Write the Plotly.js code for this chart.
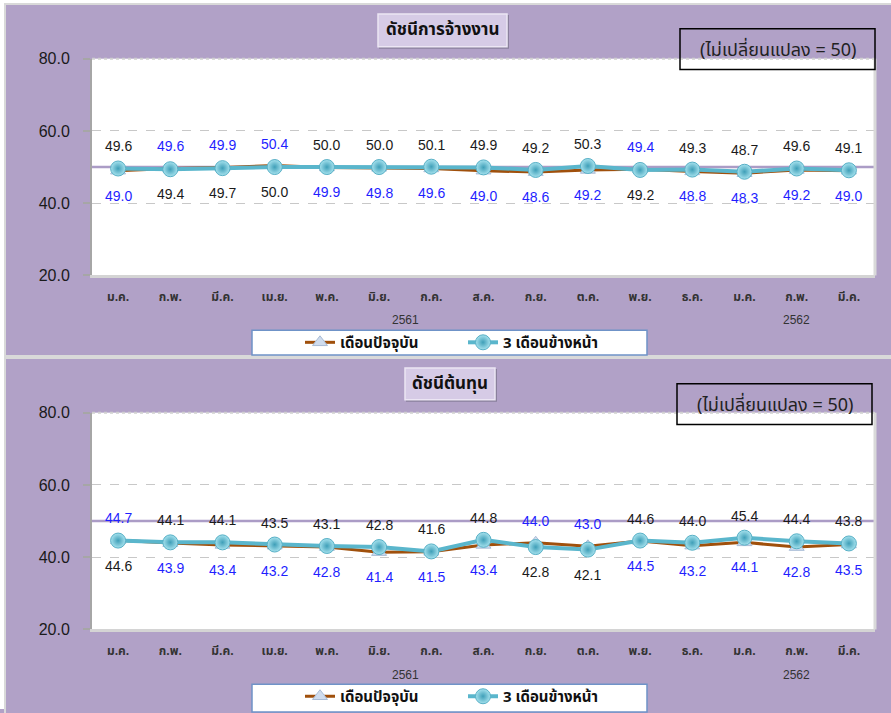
<!DOCTYPE html>
<html><head><meta charset="utf-8">
<script src="https://cdn.plot.ly/plotly-3.0.1.min.js"></script>
<style>html,body{margin:0;padding:0;background:#fff;}#chart{width:891px;height:713px;}</style>
</head><body><div id="chart"></div>
<script>
// ---------- data ----------
const months = ['ม.ค.','ก.พ.','มี.ค.','เม.ย.','พ.ค.','มิ.ย.','ก.ค.','ส.ค.','ก.ย.','ต.ค.','พ.ย.','ธ.ค.','ม.ค.','ก.พ.','มี.ค.'];
const years = ['2561','2561','2561','2561','2561','2561','2561','2561','2561','2561','2561','2561','2562','2562','2562'];
const seriesNames = ['เดือนปัจจุบัน','3 เดือนข้างหน้า'];
const panelTitles = ['ดัชนีการจ้างงาน','ดัชนีต้นทุน'];
const noteText = '(ไม่เปลี่ยนแปลง = 50)';
const neutralLevel = 50;
const yTicks = [20, 40, 60, 80];

const employCurrent = [49.0,49.6,49.9,50.4,49.9,49.8,49.6,49.0,48.6,49.2,49.4,48.8,48.3,49.2,49.0];
const employAhead   = [49.6,49.4,49.7,50.0,50.0,50.0,50.1,49.9,49.2,50.3,49.2,49.3,48.7,49.6,49.1];
const costCurrent   = [44.7,43.9,43.4,43.2,42.8,41.4,41.5,43.4,44.0,43.0,44.5,43.2,44.1,42.8,43.5];
const costAhead     = [44.6,44.1,44.1,43.5,43.1,42.8,41.6,44.8,42.8,42.1,44.6,44.0,45.4,44.4,43.8];

// ---------- helpers ----------
const W = 891, H = 713;
const px = x => x / W;
const py = y => 1 - y / H;
const idx = months.map((_, i) => i);
const THAI = "Tahoma, 'Noto Sans Thai', 'Leelawadee UI', 'DejaVu Sans', sans-serif";
const NUM = "'Liberation Sans', Arial, sans-serif";
const PURPLE = '#b1a1c7';
const BROWN = '#a0500c';
const TEAL = '#5ab6cc';

const panels = [
  {cur: employCurrent, ahead: employAhead, top: 59, bottom: 277, panelTop: 4, panelBottom: 358,
   title: panelTitles[0], tbox: [378, 14, 507, 47], note: [680, 29, 875, 70], yearY: 322, legY: 344.5, leg: [252, 332, 647, 357]},
  {cur: costCurrent, ahead: costAhead, top: 415, bottom: 633, panelTop: 360, panelBottom: 720,
   title: panelTitles[1], tbox: [405, 370, 495, 402], note: [677, 386, 872, 427], yearY: 679, legY: 700.5, leg: [252, 688, 647, 716]}
];

const traces = [];
const shapes = [];
const annotations = [];
const layout = {
  width: W, height: H,
  margin: {l: 0, r: 0, t: 0, b: 0},
  paper_bgcolor: PURPLE,
  plot_bgcolor: '#ffffff',
  showlegend: true,
  font: {family: NUM, color: '#222'}
};

// outer white margins of the picture
shapes.push({type: 'rect', xref: 'paper', yref: 'paper', layer: 'below',
  x0: 0, x1: px(5), y0: 0, y1: 1, fillcolor: '#ffffff', line: {width: 0}});
shapes.push({type: 'rect', xref: 'paper', yref: 'paper', layer: 'below',
  x0: 0, x1: 1, y0: py(4), y1: 1, fillcolor: '#ffffff', line: {width: 0}});

// year group centres
const yearGroups = [];
years.forEach((yr, i) => {
  let g = yearGroups.find(o => o.yr === yr);
  if (!g) { g = {yr, idx: []}; yearGroups.push(g); }
  g.idx.push(i);
});

panels.forEach((p, k) => {
  const xa = k === 0 ? 'x' : 'x2';
  const ya = k === 0 ? 'y' : 'y2';
  const xKey = k === 0 ? 'xaxis' : 'xaxis2';
  const yKey = k === 0 ? 'yaxis' : 'yaxis2';
  const legKey = k === 0 ? 'legend' : 'legend2';

  // panel outline
  shapes.push({type: 'rect', xref: 'paper', yref: 'paper', layer: 'below',
    x0: px(5), x1: px(900), y0: py(p.panelBottom), y1: py(p.panelTop),
    line: {color: '#d9d9d9', width: 2}});

  layout[xKey] = {
    domain: [px(92), px(875)], anchor: ya,
    range: [-0.5, months.length - 0.5],
    tickvals: idx, ticktext: months,
    tickfont: {family: THAI, size: 12, color: '#333', weight: 'bold'},
    showgrid: false, zeroline: false,
    showline: true, linecolor: '#d4d4d4', linewidth: 3,
    ticks: '', ticklabelstandoff: 8, fixedrange: true
  };
  layout[yKey] = {
    domain: [py(p.bottom), py(p.top)], anchor: xa,
    range: [20, 80], tickvals: yTicks, ticktext: yTicks.map(v => v.toFixed(1)),
    tickfont: {family: NUM, size: 16, color: '#1a1a1a'},
    showgrid: true, gridcolor: '#c8c8c8', griddash: 'dash', gridwidth: 1,
    zeroline: false, showline: true, linecolor: '#a6a6a6', linewidth: 2,
    ticks: 'outside', ticklen: 7, tickcolor: '#a6a6a6', tickwidth: 2,
    ticklabelstandoff: 10, fixedrange: true
  };

  // top dotted border and right border of plot area
  shapes.push({type: 'line', xref: xa + ' domain', yref: ya + ' domain', x0: 0, x1: 1, y0: 1, y1: 1,
    line: {color: '#d0d0d0', width: 2, dash: 'dot'}});
  shapes.push({type: 'line', xref: xa + ' domain', yref: ya + ' domain', x0: 1, x1: 1, y0: 0, y1: 1,
    line: {color: '#d9d9d9', width: 3}});
  // neutral line at 50
  shapes.push({type: 'line', xref: xa + ' domain', yref: ya, x0: 0, x1: 1, y0: neutralLevel, y1: neutralLevel,
    line: {color: '#ab9cc6', width: 2.5}, layer: 'below'});

  // series
  traces.push({
    x: idx, y: p.cur, xaxis: xa, yaxis: ya, name: seriesNames[0], legend: legKey,
    mode: 'lines+markers', type: 'scatter', cliponaxis: false,
    line: {color: BROWN, width: 3},
    marker: {symbol: 'triangle-up', size: 13, color: '#cfdcee', line: {color: '#a9bcd6', width: 1}},
    hoverinfo: 'skip'
  });
  traces.push({
    x: idx, y: p.ahead, xaxis: xa, yaxis: ya, name: seriesNames[1], legend: legKey,
    mode: 'lines+markers', type: 'scatter', cliponaxis: false,
    line: {color: TEAL, width: 4},
    marker: {symbol: 'circle', size: 15, color: '#a6e2ee', gradient: {type: 'radial', color: '#3f9fb8'},
      line: {color: '#58b0c6', width: 1}},
    hoverinfo: 'skip'
  });

  // data labels: higher value above, lower below
  idx.forEach(i => {
    const c = p.cur[i], a = p.ahead[i];
    const curAbove = c > a;
    annotations.push({x: i, y: c, xref: xa, yref: ya, text: c.toFixed(1), showarrow: false,
      xanchor: 'center', yanchor: 'middle',
      yshift: curAbove ? 22 : -25, font: {family: NUM, size: 14, color: '#1f1fff'}});
    annotations.push({x: i, y: a, xref: xa, yref: ya, text: a.toFixed(1), showarrow: false,
      xanchor: 'center', yanchor: 'middle',
      yshift: curAbove ? -25 : 22, font: {family: NUM, size: 14, color: '#1a1a1a'}});
  });

  // year labels
  yearGroups.forEach(g => {
    const c = g.idx.reduce((s, v) => s + v, 0) / g.idx.length;
    annotations.push({x: c, xref: xa, y: py(p.yearY), yref: 'paper', text: g.yr, showarrow: false,
      xanchor: 'center', yanchor: 'middle',
      font: {family: NUM, size: 12, color: '#333'}});
  });

  // title box
  const tb = p.tbox;
  shapes.push({type: 'rect', xref: 'paper', yref: 'paper',
    x0: px(tb[0] + 1), x1: px(tb[2] + 2), y0: py(tb[3] + 2), y1: py(tb[1] + 1),
    fillcolor: '#8a809c', line: {width: 0}});
  shapes.push({type: 'rect', xref: 'paper', yref: 'paper',
    x0: px(tb[0]), x1: px(tb[2]), y0: py(tb[3]), y1: py(tb[1]),
    fillcolor: '#d6cbe6', line: {color: '#ece6f4', width: 1.5}});
  annotations.push({x: px((tb[0] + tb[2]) / 2), y: py((tb[1] + tb[3]) / 2), xref: 'paper', yref: 'paper',
    xanchor: 'center', yanchor: 'middle',
    text: '<b>' + p.title + '</b>', showarrow: false,
    font: {family: THAI, size: 17, color: '#111'}});

  // note box
  const nb = p.note;
  shapes.push({type: 'rect', xref: 'paper', yref: 'paper', layer: 'above',
    x0: px(nb[0]), x1: px(nb[2]), y0: py(nb[3]), y1: py(nb[1]),
    line: {color: '#000', width: 1.5}});
  annotations.push({x: px((nb[0] + nb[2]) / 2), y: py((nb[1] + nb[3]) / 2 + 1), xref: 'paper', yref: 'paper',
    xanchor: 'center', yanchor: 'middle',
    text: noteText, showarrow: false, font: {family: THAI, size: 18, color: '#222'}});

  // legend box
  const lb = p.leg;
  shapes.push({type: 'rect', xref: 'paper', yref: 'paper',
    x0: px(lb[0]), x1: px(lb[2]), y0: py(lb[3]), y1: py(lb[1]),
    fillcolor: '#ffffff', line: {color: '#6f93c8', width: 1.5}});
  layout[legKey] = {
    orientation: 'h', x: px(300), xanchor: 'left', y: py(p.legY), yanchor: 'middle',
    bgcolor: 'rgba(0,0,0,0)', borderwidth: 0, entrywidth: 118,
    font: {family: THAI, size: 15, color: '#111', weight: 'bold'},
    itemclick: false, itemdoubleclick: false
  };
});

layout.shapes = shapes;
layout.annotations = annotations;
Plotly.newPlot('chart', traces, layout, {displayModeBar: false, staticPlot: true});
</script>
</body></html>
